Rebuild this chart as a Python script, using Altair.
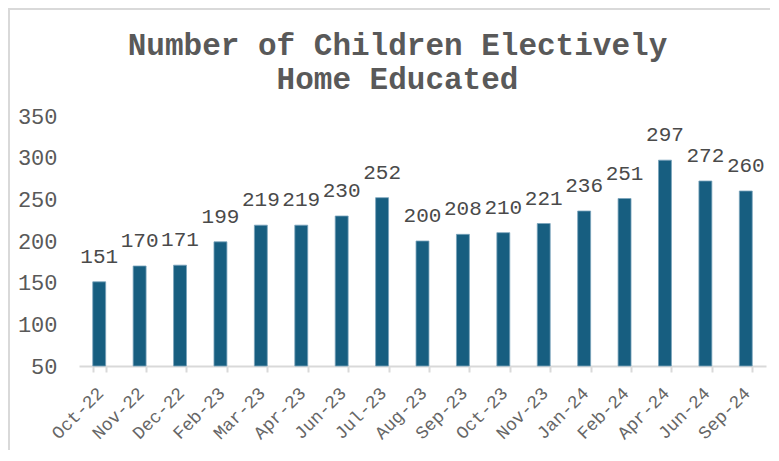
import altair as alt
import pandas as pd

months = ["Oct-22", "Nov-22", "Dec-22", "Feb-23", "Mar-23", "Apr-23", "Jun-23", "Jul-23",
          "Aug-23", "Sep-23", "Oct-23", "Nov-23", "Jan-24", "Feb-24", "Apr-24", "Jun-24", "Sep-24"]
children = [151, 170, 171, 199, 219, 219, 230, 252, 200, 208, 210, 221, 236, 251, 297, 272, 260]
y_ticks = [50, 100, 150, 200, 250, 300, 350]

df = pd.DataFrame({"month": months, "children": children})

FONT = "Liberation Mono"
BAR = "#175e80"
GREY = "#595959"
BORDER = "#d9d9d9"

W, H = 687, 250
PL, PT = 71, 108

x = alt.X("month:N", sort=months, title=None,
          scale=alt.Scale(paddingInner=0.68, paddingOuter=0.34),
          axis=alt.Axis(labelAngle=-45, labelFont=FONT, labelFontSize=18, labelColor="#666666",
                        labelPadding=12, labelOffset=-5, domainColor=BORDER, domainWidth=2,
                        tickColor=BORDER, tickWidth=2, tickSize=6, tickBand="extent",
                        grid=False))
y = alt.Y("children:Q", title=None,
          scale=alt.Scale(domain=[50, 350], nice=False, zero=False),
          axis=alt.Axis(values=y_ticks, labelFont=FONT, labelFontSize=22, labelColor=GREY,
                        labelPadding=22, domain=False, ticks=False, grid=False))

bars = alt.Chart(df).mark_bar(color=BAR, stroke="#7aa3bb", strokeWidth=0.8).encode(
    x=x, y=y, y2=alt.datum(50)
)

labels = alt.Chart(df).mark_text(font=FONT, fontSize=21, color="#4a4a4a",
                                 baseline="alphabetic", dy=-19).encode(
    x=alt.X("month:N", sort=months), y=alt.Y("children:Q"), text="children:Q"
)

border_left = alt.Chart(df).mark_rule(color=BORDER, strokeWidth=2).encode(
    x=alt.value(-PL + 1), y=alt.value(-PT), y2=alt.value(H + 100)
)
border_top = alt.Chart(df).mark_rule(color=BORDER, strokeWidth=2).encode(
    x=alt.value(-PL), x2=alt.value(W + 10), y=alt.value(-PT + 1)
)

chart = alt.layer(bars, labels, border_left, border_top).properties(
    width=W, height=H,
    title=alt.TitleParams(
        text=["Number of Children Electively", "Home Educated"],
        font=FONT, fontSize=31, fontWeight="bold", color=GREY,
        anchor="middle", lineHeight=34, offset=-89, dx=-25,
    ),
    autosize=alt.AutoSizeParams(type="none"),
    padding={"left": PL, "top": PT, "right": 4, "bottom": 84},
).configure_view(stroke=None)

chart.save("out.html", embed_options={"renderer": "svg", "actions": False})
